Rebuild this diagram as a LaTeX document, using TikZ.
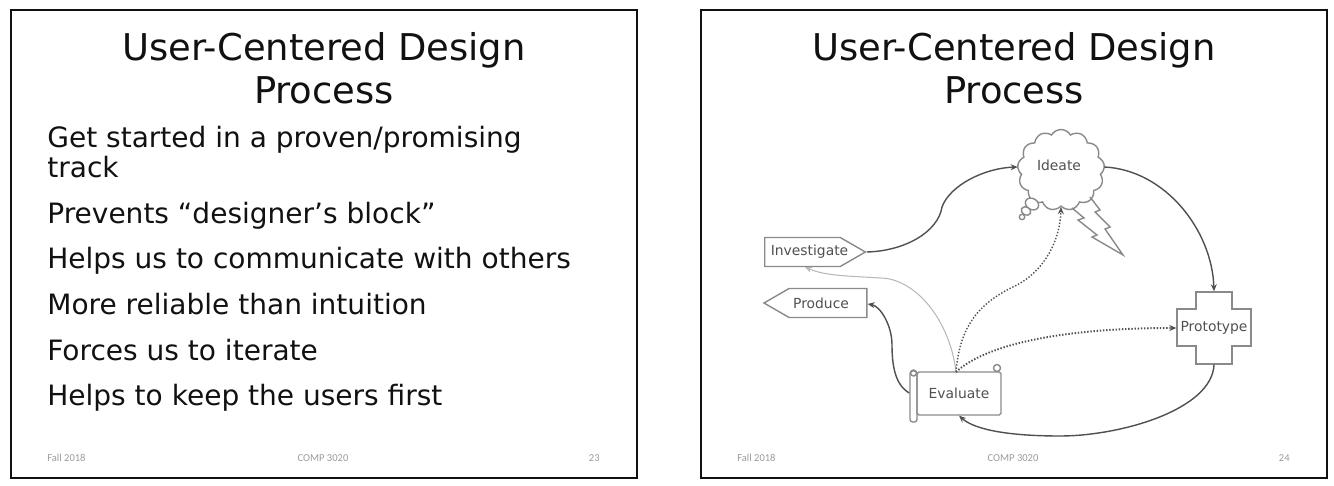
\documentclass[tikz,border=0pt]{standalone}
\usepackage{fontspec}
\setmainfont{DejaVu Sans}
\newfontfamily\pieFuente{Carlito}
\usetikzlibrary{arrows.meta, shapes.symbols}
\definecolor{tinta}{HTML}{111111}
\definecolor{pizarra}{HTML}{505050}
\definecolor{borde}{HTML}{8A8A8A}
\definecolor{pie}{HTML}{9A9A9A}
\tikzset{
  every picture/.style={>={Stealth[length=4pt,width=3.4pt]}},
  marco/.style={draw=tinta, line width=1.5pt, minimum width=12.52cm, minimum height=9.36cm},
  titulo/.style={text=tinta, align=center, font=\fontsize{21}{24.6}\selectfont},
  linea/.style={anchor=base west, text=tinta, inner sep=0pt, font=\fontsize{15.95}{17}\selectfont, align=left},
  piepag/.style={text=pie, inner sep=0pt, font=\pieFuente\fontsize{6}{8}\selectfont},
  caja/.style={draw=borde, text=pizarra, thick, inner sep=0pt, font=\fontsize{7.9}{9}\selectfont},
  flecha/.style={->, thick, pizarra},
  flechap/.style={->, thick, densely dotted, pizarra},
}
\begin{document}
\begin{tikzpicture}[x=0.02cm, y=-0.02cm]
  \useasboundingbox (0,0) rectangle (1334,486);
  % primera diapositiva
  \node[marco] (marcoa) at (324,244) {};
  \node[titulo] (tituloa) at (324,68) {User-Centered Design\\Process};
  \node[linea] (la) at (47,177) {Get started in a proven/promising\\track};
  \node[linea] (lb) at (47,223) {Prevents “designer’s block”};
  \node[linea] (lc) at (47,268) {Helps us to communicate with others};
  \node[linea] (ld) at (47,314) {More reliable than intuition};
  \node[linea] (le) at (47,360) {Forces us to iterate};
  \node[linea] (lf) at (47,405) {Helps to keep the users first};
  \node[piepag, anchor=west] (fa) at (47,458) {Fall 2018};
  \node[piepag] (ca) at (323,458) {COMP 3020};
  \node[piepag, anchor=east] (na) at (600,458) {23};
  % segunda diapositiva
  \node[marco] (marcob) at (1014,244) {};
  \node[titulo] (titulob) at (1014,68) {User-Centered Design\\Process};
  \node[piepag, anchor=west] (fb) at (737,458) {Fall 2018};
  \node[piepag] (cb) at (1013,458) {COMP 3020};
  \node[piepag, anchor=east] (nb) at (1290,458) {24};
  % cajas
  \node[caja, shape=signal, signal to=east, signal pointer angle=60, minimum height=0.58cm,
        minimum width=2cm] (investigate) at (802.5,252) {\kern0.12cm Investigate\kern-0.16cm};
  \node[caja, shape=signal, signal to=west, signal pointer angle=60, minimum height=0.58cm,
        minimum width=2cm] (produce) at (828,303) {\kern0.08cm Produce\kern0.36cm};
  \node[caja, shape=cloud, cloud puffs=13, cloud puff arc=120, cloud ignores aspect,
        minimum width=1.74cm, minimum height=1.62cm, fill=white] (ideate) at (1061,170) {};
  \node[text=pizarra, inner sep=0pt, font=\fontsize{7.9}{9}\selectfont] (ideatetxt) at (1059,165) {Ideate};
  \draw[borde, thick] (1072,208) -- (1084,218) -- (1078,220) -- (1097,235) -- (1092,237) -- (1123,255)
    -- (1105,229) -- (1110,227) -- (1095,212) -- (1100,210) -- (1090,197);
  \draw[borde, thick, fill=white] (1032,204) circle[x radius=7, y radius=5.5, rotate=-30];
  \draw[borde, thick, fill=white] (1026,211) circle[x radius=5, y radius=4, rotate=-30];
  \draw[borde, thick, fill=white] (1022,217) circle[radius=2.7];
  \draw[borde, thick] (1196,292) -- (1232,292) -- (1232,309) -- (1251,309) -- (1251,346) -- (1232,346)
    -- (1232,364) -- (1196,364) -- (1196,346) -- (1177,346) -- (1177,309) -- (1196,309) -- cycle;
  \node[caja, draw=none, minimum width=1.48cm, minimum height=1.44cm] (prototype) at (1214,328) {Prototype};
  \node[caja, rounded corners=1.5pt, minimum width=0.14cm, minimum height=1.02cm] (rollo) at (913.5,396.5) {};
  \node[caja, rounded corners=1pt, minimum width=1.68cm, minimum height=0.86cm] (evaluate) at (959,393.5) {Evaluate};
  \draw[borde, thick] (913.5,373) circle[radius=3];
  \draw[borde, thick, fill=white] (997,368) circle[radius=3.5];
  % flechas
  \coordinate (salida) at (956,372);
  \draw[flecha] (investigate.east) .. controls (905,251) and (938,232) .. (942,207)
    .. controls (950,185) and (985,168) .. (ideate.west |- 0,167);
  \draw[flecha] (ideate.east |- 0,167) .. controls (1165,170) and (1212,230) .. (prototype.north);
  \draw[flecha] (prototype.south) .. controls (1212,410) and (1120,436) .. (1060,436)
    .. controls (1010,436) and (975,430) .. (evaluate.south);
  \draw[flecha] (rollo.west |- 0,393) .. controls (895,385) and (892,365) .. (892,345)
    .. controls (892,325) and (880,306) .. (produce.east |- 0,304);
  \draw[->, semithick, black!28] (salida) .. controls (950,320) and (915,278) .. (880,278)
    .. controls (850,276) and (825,276) .. (805,267);
  \draw[flechap] (salida) .. controls (960,320) and (985,300) .. (1017,285)
    .. controls (1045,270) and (1060,240) .. (ideate.south);
  \draw[flechap, line width=1.1pt] (salida) .. controls (985,345) and (1060,328) .. (prototype.west);
\end{tikzpicture}
\end{document}
